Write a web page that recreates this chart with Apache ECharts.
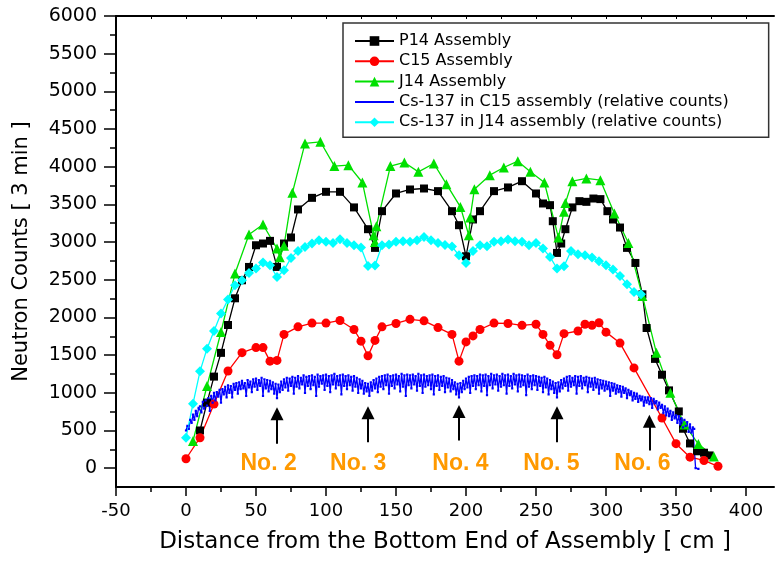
<!DOCTYPE html>
<html>
<head>
<meta charset="utf-8">
<script src="https://cdn.jsdelivr.net/npm/echarts@6/dist/echarts.min.js"></script>
<style>
  html, body { margin: 0; padding: 0; background: #fff; }
  #chart { width: 777px; height: 561px; }
</style>
</head>
<body>
<div id="chart"></div>
<script>
// axis ticks
const xTicks = [-50, 0, 50, 100, 150, 200, 250, 300, 350, 400]
const xMinorTicks = [-25, 25, 75, 125, 175, 225, 275, 325, 375]
const xTopTicks = [-25, 0, 25, 50, 75, 100, 125, 150, 175, 200, 225, 250, 275, 300, 325, 350, 375, 400]
const yTicks = [0, 500, 1000, 1500, 2000, 2500, 3000, 3500, 4000, 4500, 5000, 5500, 6000]
const yMinorTicks = [250, 750, 1250, 1750, 2250, 2750, 3250, 3750, 4250, 4750, 5250, 5750]

const seriesNames = ['P14 Assembly', 'C15 Assembly', 'J14 Assembly',
  'Cs-137 in C15 assembly (relative counts)', 'Cs-137 in J14 assembly (relative counts)']

// P14 Assembly
const p14X = [10, 15, 20, 25, 30, 35, 40, 45, 50, 55, 60, 65, 70, 75, 80, 90, 100, 110, 120, 130,
  135, 140, 150, 160, 170, 180, 190, 195, 200, 205, 210, 220, 230, 240, 250, 255, 260, 262, 265, 268,
  271, 276, 281, 286, 291, 296, 301, 305, 310, 315, 321, 326, 329, 335, 340, 345, 352, 355, 360, 365,
  370, 374]
const p14Y = [500, 870, 1215, 1530, 1900, 2254, 2493, 2670, 2958, 2981, 3016, 2670, 2981, 3061, 3433, 3587, 3667, 3667, 3460, 3171,
  2923, 3410, 3645, 3698, 3711, 3676, 3410, 3224, 2812, 3300, 3410, 3676, 3725, 3808, 3645, 3512, 3490, 3277, 2856, 2981,
  3171, 3460, 3543, 3534, 3578, 3570, 3410, 3300, 3193, 2923, 2723, 2307, 1860, 1450, 1240, 1032, 753, 523, 328, 224,
  205, 169]

// C15 Assembly
const c15X = [0, 10, 20, 30, 40, 50, 55, 60, 65, 70, 80, 90, 100, 110, 120, 125, 130, 135, 140, 150,
  160, 170, 180, 190, 195, 200, 205, 210, 220, 230, 240, 250, 255, 260, 265, 270, 280, 285, 290, 295,
  300, 310, 320, 340, 350, 360, 370, 380]
const c15Y = [125, 404, 850, 1289, 1533, 1600, 1600, 1420, 1430, 1775, 1875, 1925, 1925, 1960, 1840, 1685, 1490, 1695, 1875, 1920,
  1975, 1955, 1865, 1775, 1420, 1675, 1755, 1840, 1925, 1920, 1895, 1910, 1775, 1630, 1505, 1785, 1820, 1910, 1895, 1930,
  1805, 1660, 1330, 665, 325, 146, 102, 25]

// J14 Assembly
const j14X = [5, 15, 25, 35, 45, 55, 65, 67, 70, 76, 85, 96, 106, 116, 126, 134, 135, 136, 146, 156,
  166, 177, 186, 196, 202, 203, 206, 217, 227, 237, 246, 256, 266, 270, 271, 276, 286, 296, 306, 316,
  326, 336, 346, 356, 366, 377]
const j14Y = [360, 1090, 1807, 2582, 3100, 3233, 2914, 2800, 2950, 3653, 4309, 4331, 4008, 4021, 3791, 3091, 3002, 3211, 4008, 4057,
  3932, 4043, 3768, 3467, 3091, 3326, 3702, 3888, 3990, 4074, 3932, 3791, 3060, 3401, 3520, 3808, 3844, 3822, 3379, 2989,
  2285, 1530, 1000, 580, 320, 155]

// Cs-137 in C15 assembly (relative counts), one reading per cm
const csC15X = [
  0, 1, 2, 3, 4, 5, 6, 7, 8, 9, 10, 11, 12, 13, 14, 15, 16, 17, 18, 19,
  20, 21, 22, 23, 24, 25, 26, 27, 28, 29, 30, 31, 32, 33, 34, 35, 36, 37, 38, 39,
  40, 41, 42, 43, 44, 45, 46, 47, 48, 49, 50, 51, 52, 53, 54, 55, 56, 57, 58, 59,
  60, 61, 62, 63, 64, 65, 66, 67, 68, 69, 70, 71, 72, 73, 74, 75, 76, 77, 78, 79,
  80, 81, 82, 83, 84, 85, 86, 87, 88, 89, 90, 91, 92, 93, 94, 95, 96, 97, 98, 99,
  100, 101, 102, 103, 104, 105, 106, 107, 108, 109, 110, 111, 112, 113, 114, 115, 116, 117, 118, 119,
  120, 121, 122, 123, 124, 125, 126, 127, 128, 129, 130, 131, 132, 133, 134, 135, 136, 137, 138, 139,
  140, 141, 142, 143, 144, 145, 146, 147, 148, 149, 150, 151, 152, 153, 154, 155, 156, 157, 158, 159,
  160, 161, 162, 163, 164, 165, 166, 167, 168, 169, 170, 171, 172, 173, 174, 175, 176, 177, 178, 179,
  180, 181, 182, 183, 184, 185, 186, 187, 188, 189, 190, 191, 192, 193, 194, 195, 196, 197, 198, 199,
  200, 201, 202, 203, 204, 205, 206, 207, 208, 209, 210, 211, 212, 213, 214, 215, 216, 217, 218, 219,
  220, 221, 222, 223, 224, 225, 226, 227, 228, 229, 230, 231, 232, 233, 234, 235, 236, 237, 238, 239,
  240, 241, 242, 243, 244, 245, 246, 247, 248, 249, 250, 251, 252, 253, 254, 255, 256, 257, 258, 259,
  260, 261, 262, 263, 264, 265, 266, 267, 268, 269, 270, 271, 272, 273, 274, 275, 276, 277, 278, 279,
  280, 281, 282, 283, 284, 285, 286, 287, 288, 289, 290, 291, 292, 293, 294, 295, 296, 297, 298, 299,
  300, 301, 302, 303, 304, 305, 306, 307, 308, 309, 310, 311, 312, 313, 314, 315, 316, 317, 318, 319,
  320, 321, 322, 323, 324, 325, 326, 327, 328, 329, 330, 331, 332, 333, 334, 335, 336, 337, 338, 339,
  340, 341, 342, 343, 344, 345, 346, 347, 348, 349, 350, 351, 352, 353, 354, 355, 356, 357, 358, 359,
  360, 361, 362, 363, 364, 366]
const csC15Y = [
  500, 560, 520, 640, 600, 710, 640, 760, 690, 800, 820, 740, 880, 790, 900, 830, 930, 760, 960, 870,
  1000, 900, 1010, 950, 1040, 870, 1050, 980, 1080, 940, 1100, 1000, 1090, 940, 1120, 1040, 1130, 990, 1140, 1050,
  1160, 1060, 1130, 960, 1170, 1070, 1150, 1010, 1180, 1080, 1190, 1040, 1170, 1090, 1200, 960, 1180, 1060, 1170, 1020,
  1160, 1050, 1140, 990, 1120, 930, 1110, 1010, 1150, 1040, 1180, 1070, 1200, 1030, 1190, 1090, 1210, 990, 1200, 1080,
  1220, 1060, 1200, 1110, 1230, 1000, 1210, 1090, 1220, 1050, 1230, 1100, 1210, 960, 1240, 1080, 1220, 1120, 1230, 1040,
  1240, 1090, 1220, 1010, 1230, 1110, 1250, 1060, 1220, 1100, 1230, 980, 1240, 1090, 1220, 1050, 1230, 1100, 1210, 1030,
  1220, 1080, 1200, 1000, 1180, 1060, 1160, 990, 1130, 1020, 1120, 960, 1140, 1030, 1170, 1060, 1190, 1010, 1210, 1080,
  1220, 1050, 1230, 1100, 1240, 990, 1220, 1090, 1230, 1060, 1240, 1110, 1220, 1020, 1250, 1080, 1230, 960, 1240, 1100,
  1230, 1060, 1240, 1110, 1220, 1030, 1250, 1090, 1230, 1000, 1240, 1080, 1220, 1100, 1230, 1050, 1240, 980, 1220, 1090,
  1230, 1040, 1210, 1090, 1220, 1010, 1200, 1070, 1190, 1020, 1170, 1050, 1140, 980, 1120, 940, 1130, 1010, 1160, 1050,
  1190, 1070, 1210, 1000, 1220, 1090, 1230, 1050, 1220, 1100, 1240, 1020, 1230, 1090, 1240, 970, 1220, 1100, 1250, 1060,
  1230, 1110, 1240, 1030, 1220, 1080, 1250, 1100, 1230, 990, 1240, 1090, 1220, 1060, 1250, 1110, 1230, 1020, 1240, 1080,
  1230, 1100, 1220, 970, 1240, 1080, 1220, 1050, 1230, 1100, 1220, 1040, 1210, 1090, 1200, 1010, 1210, 1070, 1190, 980,
  1170, 1050, 1150, 1000, 1130, 940, 1140, 1020, 1170, 1060, 1190, 1090, 1210, 1030, 1220, 1080, 1200, 1100, 1220, 990,
  1210, 1090, 1220, 1060, 1200, 1100, 1210, 1010, 1200, 1080, 1190, 1040, 1200, 1070, 1180, 990, 1170, 1060, 1160, 1030,
  1150, 1050, 1140, 960, 1130, 1030, 1120, 990, 1100, 1010, 1090, 950, 1080, 1000, 1060, 930, 1040, 970, 1020, 900,
  1000, 920, 990, 880, 960, 900, 950, 830, 940, 870, 940, 850, 930, 800, 920, 860, 890, 780, 870, 800,
  840, 730, 820, 700, 790, 690, 760, 640, 740, 660, 700, 600, 690, 580, 660, 540, 640, 560, 610, 480,
  580, 470, 540, 520, 0, -10]

// Cs-137 in J14 assembly (relative counts)
const csJ14X = [0, 5, 10, 15, 20, 25, 30, 35, 40, 45, 50, 55, 60, 65, 70, 75, 80, 85, 90, 95,
  100, 105, 110, 115, 120, 125, 130, 135, 140, 145, 150, 155, 160, 165, 170, 175, 180, 185, 190, 195,
  200, 205, 210, 215, 220, 225, 230, 235, 240, 245, 250, 255, 260, 265, 270, 275, 280, 285, 290, 295,
  300, 305, 310, 315, 320, 325]
const csJ14Y = [404, 855, 1285, 1586, 1820, 2051, 2237, 2427, 2493, 2591, 2649, 2729, 2693, 2537, 2626, 2790, 2883, 2936, 2981, 3025,
  3003, 2989, 3038, 2989, 2958, 2927, 2683, 2690, 2958, 2967, 3003, 3012, 3003, 3025, 3069, 3025, 2989, 2960, 2940, 2825,
  2723, 2883, 2958, 2945, 3003, 3012, 3034, 3012, 3003, 2958, 2989, 2914, 2803, 2649, 2679, 2883, 2838, 2825, 2795, 2746,
  2693, 2635, 2551, 2440, 2338, 2307]

// 组件位置标注 (arrows + labels)
const markNames = ['No. 2', 'No. 3', 'No. 4', 'No. 5', 'No. 6']
const arrowX = [65, 130, 195, 265, 331]
const arrowTailY = [324, 345, 368, 345, 235]
const arrowHeadY = [721, 735, 753, 735, 624]
const markLabelX = [59, 123, 196, 261, 326]
const markLabelY = [62, 62, 62, 62, 62]

const FONT = 'DejaVu Sans'
// tiny dot centred in a wide box, so the legend icon stays a small dot
const DOT = 'path://M0 0L0.01 0Z M9 9h2v2h-2Z M20 20L19.99 20Z'

const pairs = (xs, ys) => xs.map((x, i) => [x, ys[i]])

let chart = echarts.init(document.getElementById('chart'), null, { renderer: 'canvas' })

let lineSeries = (name, xs, ys, color, symbol, size, width) => ({
  name: name,
  type: 'line',
  xAxisIndex: 0,
  yAxisIndex: 0,
  data: pairs(xs, ys),
  symbol: symbol,
  symbolSize: size,
  showAllSymbol: true,
  lineStyle: { color: color, width: width },
  itemStyle: { color: color },
  emphasis: { disabled: true }
})

let option = {
  animation: false,
  backgroundColor: '#fff',
  grid: { left: 116, right: 3, top: 16, bottom: 74, containLabel: false },
  legend: {
    data: seriesNames,
    orient: 'vertical',
    left: 343,
    top: 23,
    itemWidth: 39,
    itemHeight: 12,
    itemGap: 4.3,
    padding: [10, 40, 7, 11],
    borderColor: '#333',
    borderWidth: 1.5,
    backgroundColor: '#fff',
    textStyle: { fontFamily: FONT, fontSize: 16, color: '#000', lineHeight: 16 },
    selectedMode: false
  },
  xAxis: [
    {
      type: 'value', position: 'bottom', min: -50, max: 420,
      name: 'Distance from the Bottom End of Assembly [ cm ]',
      nameLocation: 'middle', nameGap: 44,
      nameTextStyle: { fontFamily: FONT, fontSize: 23, color: '#000' },
      axisLine: { show: true, onZero: false, lineStyle: { color: '#000', width: 2 } },
      axisTick: { show: true, length: 9, customValues: xTicks, lineStyle: { color: '#000', width: 1.5 } },
      axisLabel: { customValues: xTicks, margin: 15, fontFamily: FONT, fontSize: 18, color: '#000' },
      splitLine: { show: false }
    },
    {
      type: 'value', position: 'bottom', min: -50, max: 420,
      axisLine: { show: false, onZero: false },
      axisTick: { show: true, length: 5, customValues: xMinorTicks, lineStyle: { color: '#000', width: 1.5 } },
      axisLabel: { show: false },
      splitLine: { show: false }
    },
    {
      type: 'value', position: 'top', min: -50, max: 420,
      axisLine: { show: true, onZero: false, lineStyle: { color: '#000', width: 2 } },
      axisTick: { show: true, inside: true, length: 3, customValues: xTopTicks, lineStyle: { color: '#000', width: 1 } },
      axisLabel: { show: false },
      splitLine: { show: false }
    }
  ],
  yAxis: [
    {
      type: 'value', min: -250, max: 6000, position: 'left',
      name: 'Neutron Counts [ 3 min ]',
      nameLocation: 'middle', nameGap: 84,
      nameTextStyle: { fontFamily: FONT, fontSize: 21, color: '#000' },
      axisLine: { show: true, onZero: false, lineStyle: { color: '#000', width: 2 } },
      axisTick: { show: true, length: 12, customValues: yTicks, lineStyle: { color: '#000', width: 1.5 } },
      axisLabel: {
        customValues: yTicks, margin: 19, fontFamily: FONT, fontSize: 19, color: '#000',
        formatter: v => String(v)
      },
      splitLine: { show: false }
    },
    {
      type: 'value', min: -250, max: 6000, position: 'left', offset: 0,
      axisLine: { show: false, onZero: false },
      axisTick: { show: true, length: 6, customValues: yMinorTicks, lineStyle: { color: '#000', width: 1.5 } },
      axisLabel: { show: false },
      splitLine: { show: false }
    }
  ],
  series: [
    lineSeries(seriesNames[0], p14X, p14Y, '#000000', 'rect', 8, 1.3),
    lineSeries(seriesNames[1], c15X, c15Y, '#ff0000', 'circle', 9, 1.3),
    lineSeries(seriesNames[2], j14X, j14Y, '#00e000', 'triangle', 10, 1.3),
    lineSeries(seriesNames[3], csC15X, csC15Y, '#0000ff', DOT, 22, 1.3),
    lineSeries(seriesNames[4], csJ14X, csJ14Y, '#00ffff', 'diamond', 10, 1.3),
    {
      name: 'marks',
      type: 'line',
      data: [],
      silent: true,
      markLine: {
        silent: true,
        animation: false,
        symbol: ['none', 'triangle'],
        symbolSize: 13,
        label: { show: false },
        lineStyle: { color: '#000', width: 2, type: 'solid' },
        itemStyle: { color: '#000' },
        emphasis: { disabled: true },
        data: arrowX.map((x, i) => [{ coord: [x, arrowTailY[i]] }, { coord: [x, arrowHeadY[i]] }])
      },
      markPoint: {
        silent: true,
        animation: false,
        symbol: 'circle',
        symbolSize: 0,
        label: {
          show: true,
          position: 'inside',
          formatter: '{b}',
          fontFamily: 'Liberation Sans',
          fontWeight: 'bold',
          fontSize: 23,
          color: '#ff9900'
        },
        data: markNames.map((n, i) => ({ name: n, coord: [markLabelX[i], markLabelY[i]] }))
      }
    }
  ]
}

chart.setOption(option)
window.onresize = function () {
  chart.resize()
}
</script>
</body>
</html>
